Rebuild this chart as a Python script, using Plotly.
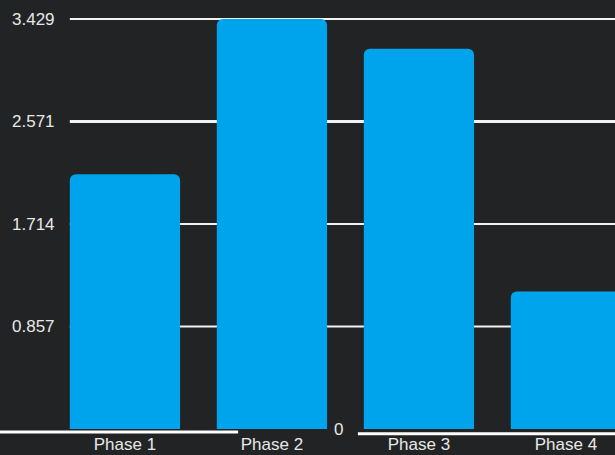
import plotly.graph_objects as go

# Data
categories = ["Phase 1", "Phase 2", "Phase 3", "Phase 4"]
values = [2.13, 3.429, 3.18, 1.15]
tick_values = [0.857, 1.714, 2.571, 3.429]
tick_labels = ["0.857", "1.714", "2.571", "3.429"]
grid_widths = [2, 2, 3, 2]

BG = "#222324"
BAR = "#00a4ec"
TXT = "#e8e8e8"
FONT = dict(family="Liberation Sans, Arial", size=17, color=TXT)

fig = go.Figure()
fig.add_trace(go.Bar(
    x=categories,
    y=values,
    width=0.75,
    marker=dict(color=BAR, line=dict(width=0), cornerradius=6),
    hoverinfo="x+y",
))

shapes = []
# horizontal grid lines, starting at the left edge of the first bar
for v, w in zip(tick_values, grid_widths):
    shapes.append(dict(type="line", xref="x", yref="y", x0=-0.375, x1=3.4,
                       y0=v, y1=v, line=dict(color="#f2f2f2", width=w), layer="below"))
# broken baseline below the bars
shapes.append(dict(type="line", xref="x", yref="y", x0=-0.9, x1=0.77,
                   y0=-0.025, y1=-0.025, line=dict(color="#ffffff", width=3), layer="below"))
shapes.append(dict(type="line", xref="x", yref="y", x0=1.585, x1=3.4,
                   y0=-0.04, y1=-0.04, line=dict(color="#ffffff", width=3), layer="below"))

annotations = []
for v, t in zip(tick_values, tick_labels):
    annotations.append(dict(x=-0.46, y=v, xref="x", yref="y", text=t, showarrow=False,
                            xanchor="right", yanchor="middle", font=FONT))
annotations.append(dict(x=1.45, y=0, xref="x", yref="y", text="0", showarrow=False,
                        xanchor="center", yanchor="middle", font=FONT))

fig.update_layout(
    width=615, height=455,
    margin=dict(l=0, r=0, t=0, b=18),
    paper_bgcolor=BG, plot_bgcolor=BG,
    showlegend=False,
    shapes=shapes,
    annotations=annotations,
    xaxis=dict(range=[-0.85, 3.334], showgrid=False, zeroline=False, showline=False,
               ticks="", tickfont=FONT, ticklabelstandoff=-5,
               automargin=False, fixedrange=True),
    yaxis=dict(range=[-0.0669, 3.588], showgrid=False, zeroline=False, showline=False,
               showticklabels=False, automargin=False, fixedrange=True),
)

fig.write_html("out.html")
